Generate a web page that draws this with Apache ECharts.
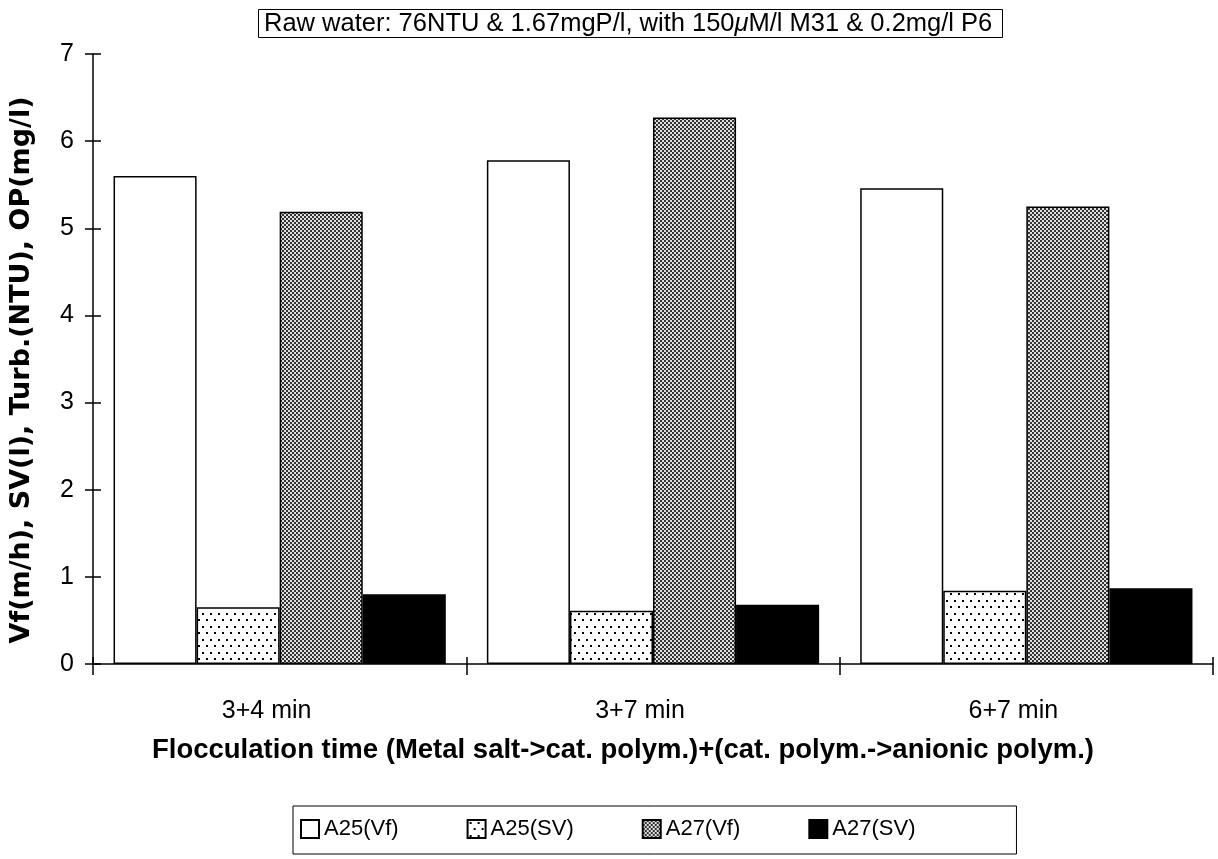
<!DOCTYPE html>
<html><head><meta charset="utf-8">
<script src="https://cdn.jsdelivr.net/npm/echarts@6/dist/echarts.min.js"></script>
<style>html,body{margin:0;padding:0;background:#fff}#c{width:1218px;height:859px}</style>
</head><body><div id="c"></div>
<script>
const categories = ['3+4 min', '3+7 min', '6+7 min'];
const seriesNames = ['A25(Vf)', 'A25(SV)', 'A27(Vf)', 'A27(SV)'];
const a25vf = [5.60, 5.78, 5.46];
const a25sv = [0.65, 0.61, 0.84];
const a27vf = [5.19, 6.27, 5.25];
const a27sv = [0.80, 0.68, 0.87];
const yTicks = [0, 1, 2, 3, 4, 5, 6, 7];

function makeDots() {
  const c = document.createElement('canvas'); c.width = 16; c.height = 13;
  const g = c.getContext('2d'); g.fillStyle = '#fff'; g.fillRect(0, 0, 16, 13);
  g.fillStyle = '#000';
  g.fillRect(2, 2, 2, 2); g.fillRect(10, 2, 2, 2);
  g.fillRect(6, 8, 2, 2); g.fillRect(14, 8, 2, 2);
  return c;
}
function makeChecker() {
  const c = document.createElement('canvas'); c.width = 4; c.height = 4;
  const g = c.getContext('2d'); g.fillStyle = '#e0e0e0'; g.fillRect(0, 0, 4, 4);
  g.fillStyle = '#333';
  g.fillRect(0, 0, 2, 2); g.fillRect(2, 2, 2, 2);
  return c;
}
const fills = [
  '#ffffff',
  { image: makeDots(), repeat: 'repeat' },
  { image: makeChecker(), repeat: 'repeat' },
  '#000000'
];
const seriesData = [a25vf, a25sv, a27vf, a27sv];
const FONT = '"Liberation Sans", Arial, Helvetica, sans-serif';
const BOLD = '"DejaVu Sans", "Liberation Sans", Arial, sans-serif';

const chart = echarts.init(document.getElementById('c'), null, { renderer: 'canvas' });
chart.setOption({
  animation: false,
  backgroundColor: '#fff',
  textStyle: { fontFamily: FONT, color: '#000' },
  title: {
    text: '{a|Raw water: 76NTU & 1.67mgP/l, with 150}{i|μ}{a|M/l M31 & 0.2mg/l P6}',
    left: 258, top: 9,
    padding: [2, 10, 1, 6],
    borderColor: '#000', borderWidth: 1,
    textStyle: {
      rich: {
        a: { fontFamily: FONT, fontSize: 25.5, color: '#000', fontWeight: 'normal' },
        i: { fontFamily: FONT, fontSize: 25.5, color: '#000', fontStyle: 'italic', fontWeight: 'normal' }
      }
    }
  },
  legend: {
    data: seriesNames,
    left: 293, top: 806,
    padding: [12, 101, 14, 7],
    itemGap: 68,
    itemWidth: 18, itemHeight: 18,
    icon: 'rect',
    borderColor: '#000', borderWidth: 1,
    textStyle: { fontFamily: FONT, fontSize: 22, color: '#000' }
  },
  grid: { left: 93, right: 5, top: 54, bottom: 195, containLabel: false },
  xAxis: [{
    type: 'category', data: categories,
    axisLine: { lineStyle: { color: '#000', width: 1.5 } },
    axisTick: { show: true, length: 11, lineStyle: { color: '#000', width: 1.5 } },
    axisLabel: { fontFamily: FONT, fontSize: 25, color: '#000', margin: 35, padding: [0, 26, 0, 0] },
    name: 'Flocculation time (Metal salt->cat. polym.)+(cat. polym.->anionic polym.)',
    nameLocation: 'middle', nameGap: 72,
    nameTextStyle: { fontFamily: FONT, fontSize: 27.5, fontWeight: 'bold', color: '#000', padding: [0, 60, 0, 0] }
  }, {
    type: 'category', data: categories, position: 'bottom',
    axisLine: { show: false },
    axisTick: { show: true, inside: true, length: 7, lineStyle: { color: '#000', width: 1.5 } },
    axisLabel: { show: false }
  }],
  yAxis: [{
    type: 'value', min: 0, max: 7, interval: 1,
    axisLine: { show: true, lineStyle: { color: '#000', width: 1.5 } },
    axisTick: { show: true, length: 8, lineStyle: { color: '#000', width: 1.5 } },
    splitLine: { show: false },
    axisLabel: { fontFamily: FONT, fontSize: 25, color: '#000', margin: 19,
      formatter: v => yTicks.includes(v) ? String(v) : '' },
    name: 'Vf(m/h), SV(l), Turb.(NTU), OP(mg/l)',
    nameLocation: 'middle', nameGap: 58, nameRotate: 90,
    nameTextStyle: { fontFamily: BOLD, fontSize: 27, fontWeight: 'bold', color: '#000', padding: [0, 22, 0, 0] }
  }, {
    type: 'value', min: 0, max: 7, interval: 1, position: 'left',
    axisLine: { show: false },
    axisTick: { show: true, inside: true, length: 8, lineStyle: { color: '#000', width: 1.5 } },
    splitLine: { show: false },
    axisLabel: { show: false }
  }],
  series: seriesNames.map((n, i) => ({
    name: n, type: 'bar', data: seriesData[i],
    xAxisIndex: 0, yAxisIndex: 0,
    barGap: '0%', barCategoryGap: '11%',
    itemStyle: { color: fills[i], borderColor: '#000', borderWidth: 1.5 }
  }))
});
</script></body></html>
